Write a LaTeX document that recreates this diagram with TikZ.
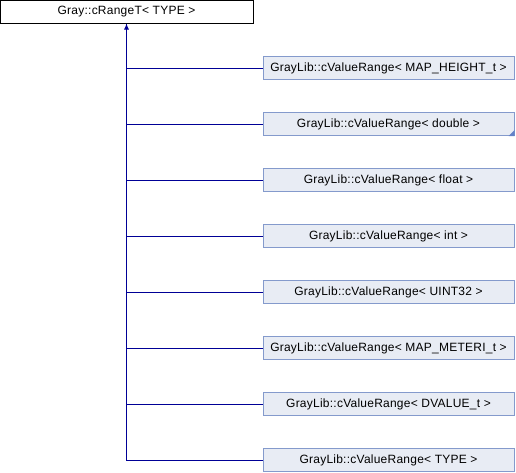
\documentclass[tikz,border=0pt]{standalone}
\usepackage{fontspec}
\setmainfont{Liberation Sans}[LetterSpace=2]
\usepackage{tikz}
\usetikzlibrary{arrows.meta}

\definecolor{boxfill}{RGB}{232,236,244}
\definecolor{boxline}{RGB}{132,154,204}
\definecolor{cornerblue}{RGB}{100,130,200}
\definecolor{edgeblue}{RGB}{0,0,150}

\tikzset{
  basebox/.style={draw=black,fill=white,line width=1pt,minimum width=253pt,minimum height=23pt,inner sep=0pt,font=\fontsize{12}{14}\selectfont},
  childbox/.style={draw=boxline,fill=boxfill,line width=1pt,minimum width=251pt,minimum height=23pt,inner sep=0pt,font=\fontsize{12}{14}\selectfont},
  edge/.style={draw=edgeblue,line width=1pt},
}

\begin{document}
\begin{tikzpicture}[x=1pt,y=-1pt]
\useasboundingbox (0,0) rectangle (516,472);

\node[basebox] (range) at (126.5,11.5) {Gray::cRangeT< TYPE >};

\node[childbox] (height) at (388.5,68) {GrayLib::cValueRange< MAP\_HEIGHT\_t >};
\node[childbox] (double) at (388.5,124) {GrayLib::cValueRange< double >};
\node[childbox] (float) at (388.5,180) {GrayLib::cValueRange< float >};
\node[childbox] (int) at (388.5,236) {GrayLib::cValueRange< int >};
\node[childbox] (uint) at (388.5,292) {GrayLib::cValueRange< UINT32 >};
\node[childbox] (meteri) at (388.5,348) {GrayLib::cValueRange< MAP\_METERI\_t >};
\node[childbox] (dvalue) at (388.5,404) {GrayLib::cValueRange< DVALUE\_t >};
\node[childbox] (type) at (388.5,460) {GrayLib::cValueRange< TYPE >};

% more derived classes
\fill[cornerblue] (double.south east) -- ++(-6,0) -- ++(6,-6) -- cycle;

\draw[edge,-{Latex[length=6pt,width=5pt]}] (type.west) -| (range.south); %8
\draw[edge] (height.west) -| (range.south); %1
\draw[edge] (double.west) -| (range.south); %2
\draw[edge] (float.west) -| (range.south); %3
\draw[edge] (int.west) -| (range.south); %4
\draw[edge] (uint.west) -| (range.south); %5
\draw[edge] (meteri.west) -| (range.south); %6
\draw[edge] (dvalue.west) -| (range.south); %7
\end{tikzpicture}
\end{document}
